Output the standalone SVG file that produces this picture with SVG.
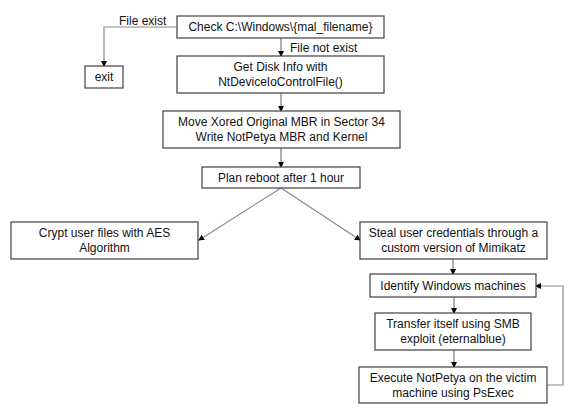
<svg xmlns="http://www.w3.org/2000/svg" width="579" height="416" viewBox="0 0 579 416">
<defs>
<marker id="ah" markerWidth="6" markerHeight="6" refX="5" refY="3" orient="auto" markerUnits="userSpaceOnUse">
<path d="M0,0 L6,3 L0,6 z" fill="#000"/>
</marker>
<style>
.box{fill:#fff;stroke:#404040;stroke-width:1.2}
.t{font-family:"Liberation Sans",Arial,sans-serif;font-size:12px;fill:#111;text-anchor:middle}
.tl{font-family:"Liberation Sans",Arial,sans-serif;font-size:12px;fill:#111}
.c{fill:none;stroke:#8a8a8a;stroke-width:1.2;marker-end:url(#ah)}
.cv{fill:none;stroke:#b0b0b0;stroke-width:2;marker-end:url(#ah)}
</style>
</defs>
<rect width="579" height="416" fill="#fff"/>
<g id="connectors">
<path class="c" d="M177,27 H104 V66"/>
<text class="tl" x="119" y="25">File exist</text>
<path class="cv" d="M281,38 V56"/>
<text class="tl" x="290" y="52">File not exist</text>
<path class="cv" d="M281,93 V111"/>
<path class="cv" d="M281,148 V167"/>
<path class="c" stroke-width="1" d="M281,188 L199,240"/>
<path class="c" stroke-width="1" d="M281,188 L360,240"/>
<path class="cv" d="M453,259 V274"/>
<path class="cv" d="M454,297 V313"/>
<path class="cv" d="M454,350 V367"/>
<path class="c" d="M547,385 H563 V286 H536"/>
</g>
<g id="check">
<rect class="box" x="177" y="16" width="207" height="22"/>
<text class="t" x="280.5" y="31">Check C:\Windows\{mal_filename}</text>
</g>
<g id="exit">
<rect class="box" x="85" y="66" width="38" height="22"/>
<text class="t" x="104" y="81">exit</text>
</g>
<g id="diskinfo">
<rect class="box" x="177" y="56" width="207" height="37"/>
<text class="t" x="280.5" y="71">Get Disk Info with</text>
<text class="t" x="280.5" y="86">NtDeviceIoControlFile()</text>
</g>
<g id="mbr">
<rect class="box" x="163" y="111" width="237" height="37"/>
<text class="t" x="281.5" y="126">Move Xored Original MBR in Sector 34</text>
<text class="t" x="281.5" y="141">Write NotPetya MBR and Kernel</text>
</g>
<g id="reboot">
<rect class="box" x="202" y="167" width="158" height="21"/>
<text class="t" x="281" y="182">Plan reboot after 1 hour</text>
</g>
<g id="crypt">
<rect class="box" x="11" y="222" width="187" height="37"/>
<text class="t" x="104.5" y="237">Crypt user files with AES</text>
<text class="t" x="104.5" y="252">Algorithm</text>
</g>
<g id="steal">
<rect class="box" x="360" y="222" width="187" height="37"/>
<text class="t" x="453.5" y="237">Steal user credentials through a</text>
<text class="t" x="453.5" y="252">custom version of Mimikatz</text>
</g>
<g id="identify">
<rect class="box" x="370" y="274" width="166" height="23"/>
<text class="t" x="453" y="290">Identify Windows machines</text>
</g>
<g id="transfer">
<rect class="box" x="375" y="313" width="156" height="37"/>
<text class="t" x="453" y="328">Transfer itself using SMB</text>
<text class="t" x="453" y="343">exploit (eternalblue)</text>
</g>
<g id="execute">
<rect class="box" x="359" y="367" width="188" height="36"/>
<text class="t" x="453" y="382">Execute NotPetya on the victim</text>
<text class="t" x="453" y="397">machine using PsExec</text>
</g>
</svg>
